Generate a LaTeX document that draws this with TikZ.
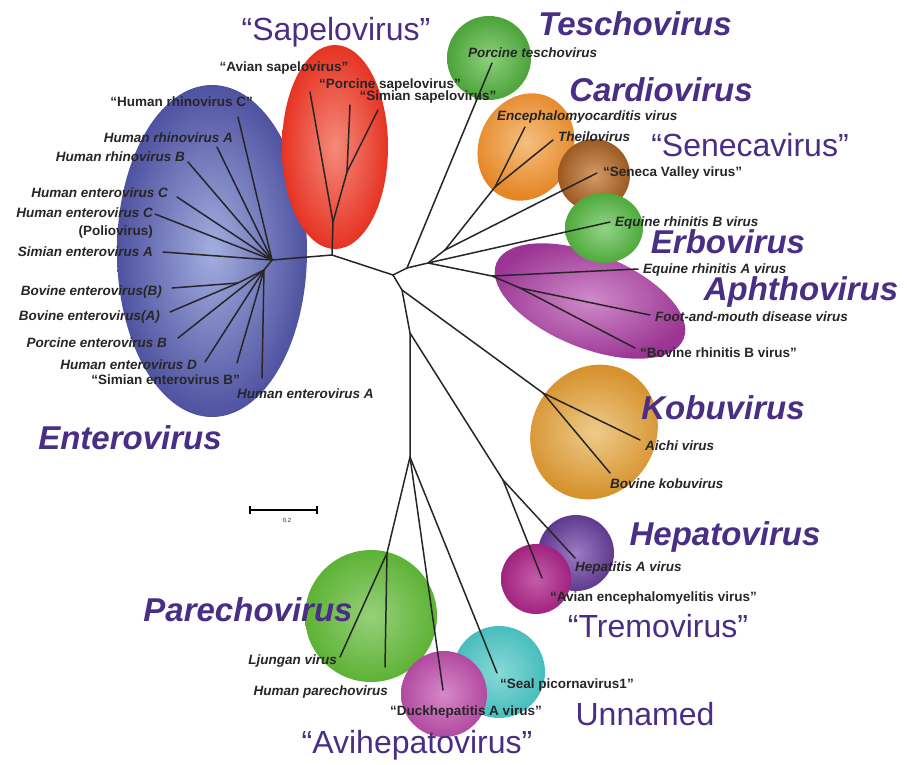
\documentclass[tikz,border=0pt]{standalone}
\usepackage{fontspec}
\setmainfont{Liberation Sans}
\usetikzlibrary{calc}

\definecolor{genuspurple}{RGB}{74,46,133}
\definecolor{tipgray}{RGB}{38,38,38}
\definecolor{enteroout}{RGB}{79,82,160}
\definecolor{enteroin}{RGB}{163,174,223}
\definecolor{sapeloout}{RGB}{230,51,35}
\definecolor{sapeloin}{RGB}{245,138,122}
\definecolor{teschout}{RGB}{75,163,57}
\definecolor{teschin}{RGB}{141,208,125}
\definecolor{cardioout}{RGB}{229,134,37}
\definecolor{cardioin}{RGB}{245,191,128}
\definecolor{senecaout}{RGB}{156,90,34}
\definecolor{senecain}{RGB}{211,154,104}
\definecolor{erboout}{RGB}{79,170,60}
\definecolor{erboin}{RGB}{146,212,136}
\definecolor{aphthoout}{RGB}{155,53,147}
\definecolor{aphthoin}{RGB}{207,138,201}
\definecolor{kobuout}{RGB}{214,146,46}
\definecolor{kobuin}{RGB}{238,203,138}
\definecolor{hepatoout}{RGB}{94,58,142}
\definecolor{hepatoin}{RGB}{158,123,196}
\definecolor{tremoout}{RGB}{160,35,127}
\definecolor{tremoin}{RGB}{196,92,168}
\definecolor{parechoout}{RGB}{93,178,53}
\definecolor{parechoin}{RGB}{151,208,122}
\definecolor{sealout}{RGB}{72,189,189}
\definecolor{sealin}{RGB}{136,217,214}
\definecolor{avihepout}{RGB}{177,74,160}
\definecolor{avihepin}{RGB}{214,136,200}

\tikzset{
  tiplabel/.style={font=\fontsize{13.5}{18}\selectfont\bfseries\itshape,text=tipgray,inner sep=0pt},
  quotelabel/.style={font=\fontsize{13.5}{18}\selectfont\bfseries,text=tipgray,inner sep=0pt},
  genus/.style={font=\fontsize{33}{36}\selectfont\bfseries\itshape,text=genuspurple,inner sep=0pt},
  tentative/.style={font=\fontsize{32}{36}\selectfont,text=genuspurple,inner sep=0pt},
  branch/.style={line width=1.5pt,draw=black!85,line cap=round,line join=round},
}

\begin{document}
\begin{tikzpicture}[x=1pt,y=-1pt]
\useasboundingbox (0,0) rectangle (907,765);

% clade blobs
\shade[inner color=enteroin,outer color=enteroout] (212,251) ellipse [x radius=95pt,y radius=166pt];
\shade[inner color=sapeloin,outer color=sapeloout] (335,147) ellipse [x radius=53pt,y radius=102pt];
\shade[inner color=teschin,outer color=teschout] (489,58) circle [radius=42pt];
\shade[shift={(526,147)},rotate=-25,inner color=cardioin,outer color=cardioout] (0,0) ellipse [x radius=47pt,y radius=55pt];
\shade[inner color=senecain,outer color=senecaout] (594,175) circle [radius=36pt];
\shade[shift={(590,301)},rotate=-22,inner color=aphthoin,outer color=aphthoout] (0,0) ellipse [x radius=101pt,y radius=47pt];
\shade[inner color=erboin,outer color=erboout] (604,228) ellipse [x radius=39pt,y radius=35pt];
\shade[shift={(594,432)},rotate=-30,inner color=kobuin,outer color=kobuout] (0,0) ellipse [x radius=62pt,y radius=69pt];
\shade[inner color=hepatoin,outer color=hepatoout] (576,553) circle [radius=38pt];
\shade[inner color=tremoin,outer color=tremoout] (536,579) circle [radius=35pt];
\shade[inner color=parechoin,outer color=parechoout] (371,616) circle [radius=66pt];
\shade[inner color=sealin,outer color=sealout] (499,672) circle [radius=46pt];
\shade[inner color=avihepin,outer color=avihepout] (444,694) circle [radius=43pt];

% internal nodes
\coordinate (R) at (393,275);
\coordinate (tA) at (407,268);
\coordinate (tX) at (428,263);
\coordinate (tCS) at (445,250);
\coordinate (tCa) at (495,187);
\coordinate (tAp) at (492,276);
\coordinate (tAp2) at (520,288);
\coordinate (S) at (332,255);
\coordinate (S1) at (333,222);
\coordinate (S2) at (347,172);
\coordinate (E1) at (272,260);
\coordinate (E2) at (264,270);
\coordinate (Ebov) at (238,283);
\coordinate (nL) at (402,290);
\coordinate (nK) at (543,393);
\coordinate (nM) at (410,333);
\coordinate (nH) at (503,480);
\coordinate (nP) at (410,457);
\coordinate (nPa) at (387,553);

% tips
\coordinate (tesch) at (492,63);
\coordinate (emcv) at (525,127);
\coordinate (theilo) at (553,140);
\coordinate (seneca) at (597,173);
\coordinate (erbv) at (610,222);
\coordinate (erav) at (638,269);
\coordinate (fmdv) at (650,315);
\coordinate (brbv) at (635,348);
\coordinate (avsap) at (310,92);
\coordinate (posap) at (350,105);
\coordinate (sisap) at (378,110);
\coordinate (hrvC) at (238,117);
\coordinate (hrvA) at (217,147);
\coordinate (hrvB) at (188,162);
\coordinate (hevC) at (177,197);
\coordinate (polio) at (155,214);
\coordinate (sevA) at (163,252);
\coordinate (bevB) at (172,288);
\coordinate (bevA) at (170,312);
\coordinate (pevB) at (178,338);
\coordinate (hevD) at (205,362);
\coordinate (sevB) at (237,363);
\coordinate (hevA) at (262,378);
\coordinate (aichi) at (640,440);
\coordinate (bkobu) at (610,473);
\coordinate (hav) at (575,558);
\coordinate (aev) at (542,578);
\coordinate (ljung) at (340,657);
\coordinate (hpev) at (385,667);
\coordinate (duck) at (443,690);
\coordinate (seal) at (497,673);

% branches
\draw[branch] (R) -- (tA) -- (tX) -- (tCS) -- (tCa) -- (emcv);
\draw[branch] (tCa) -- (theilo);
\draw[branch] (tCS) -- (seneca);
\draw[branch] (tX) -- (erbv);
\draw[branch] (tX) -- (tAp) -- (erav);
\draw[branch] (tAp) -- (tAp2) -- (fmdv);
\draw[branch] (tAp2) -- (brbv);
\draw[branch] (tA) -- (tesch);
\draw[branch] (R) -- (S) -- (S1) -- (avsap);
\draw[branch] (S1) -- (S2) -- (posap);
\draw[branch] (S2) -- (sisap);
\draw[branch] (S) -- (E1) -- (E2);
\foreach \t in {hrvC,hrvA,hrvB,hevC,polio,sevA}
  \draw[branch] (E1) -- (\t);
\draw[branch] (E2) -- (Ebov) -- (bevB);
\draw[branch] (Ebov) -- (bevA);
\foreach \t in {pevB,hevD,sevB,hevA}
  \draw[branch] (E2) -- (\t);
\draw[branch] (R) -- (nL) -- (nK) -- (aichi);
\draw[branch] (nK) -- (bkobu);
\draw[branch] (nL) -- (nM) -- (nH) -- (hav);
\draw[branch] (nH) -- (aev);
\draw[branch] (nM) -- (nP) -- (nPa) -- (ljung);
\draw[branch] (nPa) -- (hpev);
\draw[branch] (nP) -- (duck);
\draw[branch] (nP) -- (seal);

% scale bar
\coordinate (barL) at (250,510);
\coordinate (barR) at (317,510);
\draw[line width=1.2pt] (barL) -- (barR);
\draw[line width=1.2pt] ($(barL)+(0,-4)$) -- ($(barL)+(0,4)$);
\draw[line width=1.2pt] ($(barR)+(0,-4)$) -- ($(barR)+(0,4)$);
\node[font=\fontsize{6}{7}\selectfont,text=tipgray] (barlab) at (287,520) {0.2};

% species labels
\node[quotelabel,anchor=east] (lhrvC) at (253,102) {“Human rhinovirus C”};
\node[tiplabel,anchor=east] (lhrvA) at (233,138) {Human rhinovirus A};
\node[tiplabel,anchor=east] (lhrvB) at (185,157) {Human rhinovirus B};
\node[tiplabel,anchor=east] (lhevC) at (168,193) {Human enterovirus C};
\node[quotelabel,anchor=east,align=right] (lpolio) at (153,223) {{\itshape Human enterovirus C}\\(Poliovirus)};
\node[tiplabel,anchor=east] (lsevA) at (153,252) {Simian enterovirus A};
\node[tiplabel,anchor=east] (lbevB) at (162,292) {Bovine enterovirus(B)};
\node[tiplabel,anchor=east] (lbevA) at (160,317) {Bovine enterovirus(A)};
\node[tiplabel,anchor=east] (lpevB) at (167,343) {Porcine enterovirus B};
\node[tiplabel,anchor=east] (lhevD) at (197,365) {Human enterovirus D};
\node[quotelabel,anchor=east] (lsevB) at (240,380) {“Simian enterovirus B”};
\node[tiplabel,anchor=west] (lhevA) at (237,394) {Human enterovirus A};
\node[quotelabel] (lavsap) at (284,68) {“Avian sapelovirus”};
\node[quotelabel] (lposap) at (390,85) {“Porcine sapelovirus”};
\node[quotelabel] (lsisap) at (428,97) {“Simian sapelovirus”};
\node[tiplabel,anchor=west] (ltesch) at (468,53) {Porcine teschovirus};
\node[tiplabel,anchor=west] (lemcv) at (497,117) {Encephalomyocarditis virus};
\node[tiplabel,anchor=west] (ltheilo) at (558,137) {Theilovirus};
\node[quotelabel,anchor=west] (lseneca) at (603,173) {“Seneca Valley virus”};
\node[tiplabel,anchor=west] (lerbv) at (615,223) {Equine rhinitis B virus};
\node[tiplabel,anchor=west] (lerav) at (643,270) {Equine rhinitis A virus};
\node[tiplabel,anchor=west] (lfmdv) at (655,317) {Foot-and-mouth disease virus};
\node[quotelabel,anchor=west] (lbrbv) at (640,353) {“Bovine rhinitis B virus”};
\node[tiplabel,anchor=west] (laichi) at (645,446) {Aichi virus};
\node[tiplabel,anchor=west] (lbkobu) at (610,484) {Bovine kobuvirus};
\node[tiplabel,anchor=west] (lhav) at (575,568) {Hepatitis A virus};
\node[quotelabel,anchor=west] (laev) at (550,598) {“Avian encephalomyelitis virus”};
\node[tiplabel,anchor=east] (lljung) at (337,661) {Ljungan virus};
\node[tiplabel,anchor=east] (lhpev) at (388,692) {Human parechovirus};
\node[quotelabel] (lduck) at (466,712) {“Duckhepatitis A virus”};
\node[quotelabel,anchor=west] (lseal) at (500,685) {“Seal picornavirus1”};

% genus labels
\node[genus] (gentero) at (130,438) {Enterovirus};
\node[tentative] (gsapelo) at (336,32) {“Sapelovirus”};
\node[genus] (gtesch) at (635,24) {Teschovirus};
\node[genus] (gcardio) at (661,90) {Cardiovirus};
\node[tentative] (gseneca) at (750,145) {“Senecavirus”};
\node[genus] (gerbo) at (728,242) {Erbovirus};
\node[genus] (gaphtho) at (801,292) {Aphthovirus};
\node[genus] (gkobu) at (723,408) {Kobuvirus};
\node[genus] (ghepato) at (725,537) {Hepatovirus};
\node[tentative] (gtremo) at (658,626) {“Tremovirus”};
\node[genus] (gparecho) at (248,610) {Parechovirus};
\node[tentative] (gunnamed) at (645,714) {Unnamed};
\node[tentative] (gavihep) at (417,745) {“Avihepatovirus”};
\end{tikzpicture}
\end{document}
